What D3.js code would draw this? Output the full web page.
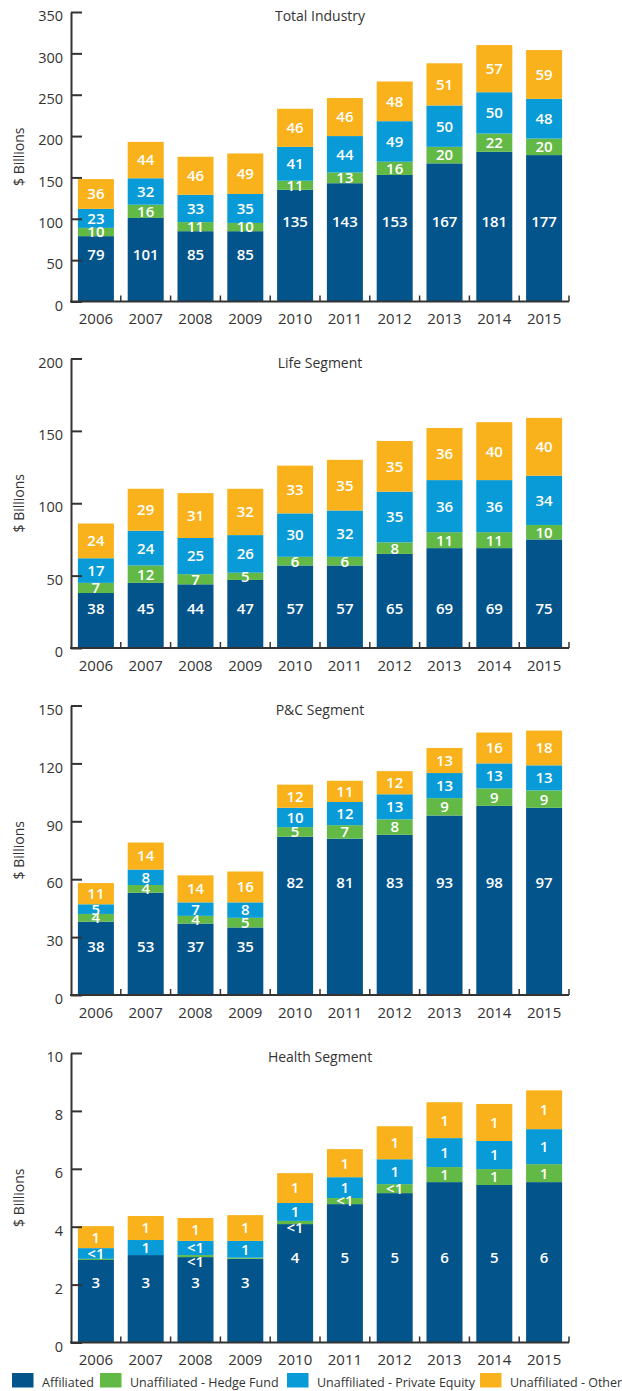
<!DOCTYPE html>
<html>
<head>
<meta charset="utf-8">
<script src="https://cdn.jsdelivr.net/npm/d3@7"></script>
<style>
  body { margin: 0; background: #fff; }
  svg { display: block; font-family: "Open Sans", sans-serif; }
</style>
</head>
<body>
<svg id="chart" width="622" height="1391"></svg>
<script>
// Years on the x axis
const years = ["2006", "2007", "2008", "2009", "2010", "2011", "2012", "2013", "2014", "2015"];

// Series names (legend order, bottom to top of each stack)
const seriesNames = ["Affiliated", "Unaffiliated - Hedge Fund", "Unaffiliated - Private Equity", "Unaffiliated - Other"];

// Total Industry ($ billions)
const totalAffiliated    = [79, 101, 85, 85, 135, 143, 153, 167, 181, 177];
const totalHedgeFund     = [10, 16, 11, 10, 11, 13, 16, 20, 22, 20];
const totalPrivateEquity = [23, 32, 33, 35, 41, 44, 49, 50, 50, 48];
const totalOther         = [36, 44, 46, 49, 46, 46, 48, 51, 57, 59];
const totalTicks         = [0, 50, 100, 150, 200, 250, 300, 350];

// Life Segment ($ billions)
const lifeAffiliated    = [38, 45, 44, 47, 57, 57, 65, 69, 69, 75];
const lifeHedgeFund     = [7, 12, 7, 5, 6, 6, 8, 11, 11, 10];
const lifePrivateEquity = [17, 24, 25, 26, 30, 32, 35, 36, 36, 34];
const lifeOther         = [24, 29, 31, 32, 33, 35, 35, 36, 40, 40];
const lifeTicks         = [0, 50, 100, 150, 200];

// P&C Segment ($ billions)
const pcAffiliated    = [38, 53, 37, 35, 82, 81, 83, 93, 98, 97];
const pcHedgeFund     = [4, 4, 4, 5, 5, 7, 8, 9, 9, 9];
const pcPrivateEquity = [5, 8, 7, 8, 10, 12, 13, 13, 13, 13];
const pcOther         = [11, 14, 14, 16, 12, 11, 12, 13, 16, 18];
const pcTicks         = [0, 30, 60, 90, 120, 150];

// Health Segment ($ billions)
const healthAffiliated    = [2.85, 3.02, 2.95, 2.89, 4.09, 4.78, 5.16, 5.54, 5.44, 5.54];
const healthHedgeFund     = [0.04, 0, 0.07, 0.04, 0.11, 0.21, 0.31, 0.52, 0.55, 0.62];
const healthPrivateEquity = [0.37, 0.52, 0.49, 0.58, 0.62, 0.72, 0.86, 1.00, 0.97, 1.21];
const healthOther         = [0.76, 0.83, 0.79, 0.89, 1.03, 0.97, 1.14, 1.24, 1.28, 1.34];
const healthTicks         = [0, 2, 4, 6, 8, 10];

const panelTitles = ["Total Industry", "Life Segment", "P&C Segment", "Health Segment"];

// ---- styling ----
const seriesColors = ["#02548b", "#63b946", "#089bd7", "#f9b21b"];
const textColor = "#333333";
const axisColor = "#333333";

const keys = ["aff", "hf", "pe", "oth"];
const panels = [
  { title: panelTitles[0], series: [totalAffiliated, totalHedgeFund, totalPrivateEquity, totalOther], ticks: totalTicks, rowSplit: 4 },
  { title: panelTitles[1], series: [lifeAffiliated, lifeHedgeFund, lifePrivateEquity, lifeOther], ticks: lifeTicks, rowSplit: null },
  { title: panelTitles[2], series: [pcAffiliated, pcHedgeFund, pcPrivateEquity, pcOther], ticks: pcTicks, rowSplit: 4 },
  { title: panelTitles[3], series: [healthAffiliated, healthHedgeFund, healthPrivateEquity, healthOther], ticks: healthTicks, rowSplit: 4 }
];

const left = 71, right = 569, plotH = 289.5;
const panelTops = [12, 358.5, 705.5, 1053];

const svg = d3.select("#chart");

const x = d3.scaleBand()
  .domain(years)
  .range([left, right])
  .paddingInner(0.277)
  .paddingOuter(0.1385);

// value label text: small values read "<1", tiny ones are not labelled
function labelText(v) {
  if (v < 0.05) return "";
  if (v < 0.5) return "<1";
  return String(Math.round(v));
}

panels.forEach((p, i) => {
  const top = panelTops[i];
  const bottom = top + plotH;
  const y = d3.scaleLinear().domain([0, d3.max(p.ticks)]).range([bottom, top]);

  const rows = years.map((yr, j) => {
    const r = { year: yr };
    keys.forEach((k, s) => { r[k] = p.series[s][j]; });
    return r;
  });
  const stacked = d3.stack().keys(keys)(rows);

  const g = svg.append("g");

  // stacked bars
  g.selectAll("g.layer")
    .data(stacked)
    .join("g")
    .attr("class", "layer")
    .attr("fill", (d, k) => seriesColors[k])
    .selectAll("rect")
    .data(d => d)
    .join("rect")
    .attr("x", d => x(d.data.year))
    .attr("width", x.bandwidth())
    .attr("y", d => y(d[1]))
    .attr("height", d => Math.max(0, y(d[0]) - y(d[1])));

  // affiliated labels sit on a common row per group of years
  const affVals = p.series[0];
  const groups = p.rowSplit == null
    ? [[0, years.length]]
    : [[0, p.rowSplit], [p.rowSplit, years.length]];
  const affRowValue = new Array(years.length);
  groups.forEach(([a, b]) => {
    const v = d3.min(affVals.slice(a, b)) * 0.72;
    for (let j = a; j < b; j++) affRowValue[j] = v;
  });

  const labels = [];
  stacked.forEach((layer, k) => {
    layer.forEach((d, j) => {
      const v = d[1] - d[0];
      const t = labelText(v);
      if (!t) return;
      let ly;
      if (k === 0) {
        ly = y(affRowValue[j]);
      } else {
        const yt = y(d[1]), yb = y(d[0]);
        ly = (yb - yt) < 5 ? yt + 6.5 : (yt + yb) / 2;
      }
      labels.push({ x: x(d.data.year) + x.bandwidth() / 2, y: ly, t });
    });
  });

  g.append("g")
    .selectAll("text")
    .data(labels)
    .join("text")
    .attr("x", d => d.x)
    .attr("y", d => d.y)
    .attr("dy", "0.36em")
    .attr("text-anchor", "middle")
    .attr("fill", "#ffffff")
    .attr("font-size", 15)
    .attr("font-weight", 600)
    .text(d => d.t);

  // y axis with inward ticks
  const yAxis = d3.axisLeft(y)
    .tickValues(p.ticks)
    .tickSizeInner(-11)
    .tickSizeOuter(0)
    .tickPadding(8);
  const ya = g.append("g")
    .attr("transform", `translate(${left},0)`)
    .call(yAxis);
  ya.select(".domain").attr("stroke", axisColor).attr("stroke-width", 2);
  ya.selectAll(".tick line").attr("stroke", axisColor).attr("stroke-width", 2);
  ya.selectAll(".tick text")
    .attr("fill", textColor)
    .attr("font-size", 14.5)
    .attr("font-family", "Open Sans, sans-serif")
    .attr("dy", "0.6em");

  // x axis baseline with small upward ticks between bars
  g.append("line")
    .attr("x1", left - 1).attr("x2", right)
    .attr("y1", bottom).attr("y2", bottom)
    .attr("stroke", axisColor).attr("stroke-width", 2);
  const bounds = d3.range(1, years.length + 1).map(k => left + k * x.step());
  g.append("g")
    .selectAll("line")
    .data(bounds)
    .join("line")
    .attr("x1", d => d).attr("x2", d => d)
    .attr("y1", bottom).attr("y2", bottom - 6)
    .attr("stroke", axisColor).attr("stroke-width", 1.5);

  // year labels
  g.append("g")
    .selectAll("text")
    .data(years)
    .join("text")
    .attr("x", d => x(d) + x.bandwidth() / 2)
    .attr("y", bottom + 22.5)
    .attr("text-anchor", "middle")
    .attr("fill", textColor)
    .attr("font-size", 15)
    .text(d => d);

  // panel title
  g.append("text")
    .attr("x", 320)
    .attr("y", top + 9)
    .attr("text-anchor", "middle")
    .attr("fill", textColor)
    .attr("font-size", 14)
    .text(p.title);

  // y axis title
  g.append("text")
    .attr("transform", `translate(23.5,${(top + bottom) / 2}) rotate(-90)`)
    .attr("text-anchor", "middle")
    .attr("fill", textColor)
    .attr("font-size", 14)
    .text("$ Billions");
});

// legend
const legendX = [12, 100, 287, 480];
const legend = svg.append("g");
const items = legend.selectAll("g")
  .data(seriesNames)
  .join("g")
  .attr("transform", (d, k) => `translate(${legendX[k]},1373)`);
items.append("rect")
  .attr("width", 21.5)
  .attr("height", 14.5)
  .attr("fill", (d, k) => seriesColors[k]);
items.append("text")
  .attr("x", 30)
  .attr("y", 14)
  .attr("fill", textColor)
  .attr("font-size", 12.5)
  .text(d => d);
</script>
</body>
</html>
